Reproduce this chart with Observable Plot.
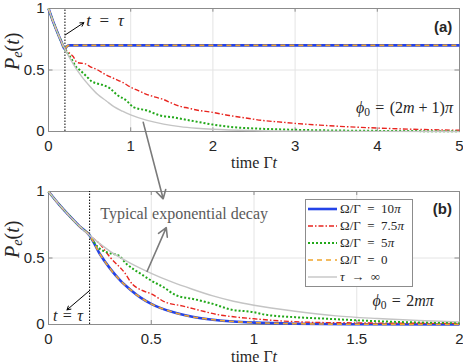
<!DOCTYPE html>
<html><head><meta charset="utf-8">
<script src="https://cdn.jsdelivr.net/npm/d3@7"></script>
<script src="https://cdn.jsdelivr.net/npm/@observablehq/plot@0.6"></script>
<style>
body{margin:0;background:#fff;}
#wrap{position:relative;width:463px;height:364px;overflow:hidden;}
#wrap svg{overflow:visible;display:block;}
#legend{position:absolute;left:305px;top:199px;width:108px;height:88px;border:1px solid #8c8c8c;background:#fff;
  font-family:"Liberation Serif",serif;font-size:13px;color:#262626;box-sizing:border-box;padding-top:0px;}
#legend .row{height:17px;display:flex;align-items:center;white-space:nowrap;}
#legend svg{margin-left:2px;margin-right:3px;flex:none;}
</style></head><body><div id="wrap"></div>
<script>
// ---------- data ----------
const tau = 0.2;
const seriesNames = ["Ω/Γ = 10π", "Ω/Γ = 7.5π", "Ω/Γ = 5π", "Ω/Γ = 0", "τ → ∞"];
const yTicks = [0, 0.5, 1];
const xTicksA = [0, 1, 2, 3, 4, 5];
const xTicksB = [0, 0.5, 1, 1.5, 2];

// common part before t = tau
const preT = [0, 0.05, 0.1, 0.15, 0.2];
const preP = [1, 0.905, 0.82, 0.74, 0.67];

// panel (a): phi0 = (2m+1)pi
const tA_blue = [...preT, 0.22, 0.25, 0.3, 5];
const pA_blue = [...preP, 0.69, 0.70, 0.70, 0.70];
const tA_orange = [...preT, 0.22, 0.25, 0.3, 5];
const pA_orange = [...preP, 0.69, 0.70, 0.70, 0.70];
const tA_red = [...preT, 0.25, 0.3, 0.35, 0.45, 0.5, 0.6, 0.7, 0.8, 0.9, 1.0, 1.1, 1.2, 1.3, 1.4, 1.5, 1.6, 1.7, 1.8, 2.0, 2.2, 2.4, 2.6, 2.8, 3.0, 3.3, 3.6, 4.0, 4.5, 5.0];
const pA_red = [...preP, 0.64, 0.61, 0.56, 0.55, 0.53, 0.50, 0.46, 0.43, 0.40, 0.36, 0.33, 0.30, 0.28, 0.26, 0.23, 0.205, 0.19, 0.175, 0.155, 0.13, 0.11, 0.09, 0.078, 0.066, 0.052, 0.04, 0.028, 0.017, 0.01];
const tA_green = [...preT, 0.25, 0.28, 0.33, 0.38, 0.46, 0.52, 0.59, 0.65, 0.75, 0.83, 0.95, 1.03, 1.2, 1.36, 1.52, 1.68, 1.84, 2.0, 2.25, 2.5, 3.0, 3.5, 4.0, 5.0];
const pA_green = [...preP, 0.62, 0.59, 0.53, 0.50, 0.45, 0.41, 0.39, 0.38, 0.35, 0.30, 0.25, 0.20, 0.17, 0.13, 0.115, 0.095, 0.075, 0.056, 0.035, 0.025, 0.014, 0.008, 0.005, 0.002];
const tA_gray = [...preT, 0.3, 0.4, 0.5, 0.6, 0.7, 0.8, 0.9, 1.0, 1.2, 1.4, 1.6, 1.8, 2.0, 2.5, 3, 4, 5];
const pA_gray = [...preP, 0.55, 0.45, 0.37, 0.30, 0.25, 0.20, 0.165, 0.135, 0.09, 0.06, 0.04, 0.027, 0.018, 0.007, 0.003, 0.001, 0];

// panel (b): phi0 = 2m pi
const tB_blue = [...preT, 0.25, 0.3, 0.35, 0.4, 0.45, 0.5, 0.6, 0.7, 0.8, 0.9, 1.0, 1.2, 1.5, 2.0];
const pB_blue = [...preP, 0.53, 0.42, 0.33, 0.26, 0.20, 0.155, 0.095, 0.058, 0.036, 0.022, 0.014, 0.006, 0.002, 0];
const tB_orange = [...preT, 0.25, 0.3, 0.35, 0.4, 0.45, 0.5, 0.6, 0.7, 0.8, 0.9, 1.0, 1.2, 1.5, 2.0];
const pB_orange = [...preP, 0.53, 0.42, 0.33, 0.26, 0.20, 0.155, 0.095, 0.058, 0.036, 0.022, 0.014, 0.006, 0.002, 0];
const tB_red = [...preT, 0.25, 0.3, 0.37, 0.41, 0.45, 0.5, 0.57, 0.65, 0.74, 0.82, 0.9, 1.0, 1.13, 1.29, 1.5, 2.0];
const pB_red = [...preP, 0.605, 0.505, 0.39, 0.30, 0.26, 0.23, 0.167, 0.14, 0.105, 0.075, 0.058, 0.043, 0.027, 0.016, 0.012, 0.008];
const tB_green = [...preT, 0.235, 0.29, 0.34, 0.38, 0.45, 0.5, 0.56, 0.62, 0.71, 0.8, 0.88, 1.0, 1.05, 1.2, 1.36, 1.52, 1.75, 2.0];
const pB_green = [...preP, 0.59, 0.54, 0.52, 0.455, 0.38, 0.33, 0.28, 0.22, 0.19, 0.155, 0.115, 0.092, 0.075, 0.055, 0.043, 0.03, 0.017, 0.012];
const tB_gray = [...preT, 0.3, 0.4, 0.5, 0.6, 0.7, 0.8, 0.9, 1.0, 1.2, 1.4, 1.6, 1.8, 2.0];
const pB_gray = [...preP, 0.55, 0.46, 0.385, 0.32, 0.265, 0.215, 0.175, 0.145, 0.10, 0.065, 0.045, 0.03, 0.02];

// ---------- styles ----------
const styles = [
  {stroke: "#2443e8", strokeWidth: 2.6, dash: null},
  {stroke: "#e8251f", strokeWidth: 1.4, dash: "5,2,1.5,2"},
  {stroke: "#22a81a", strokeWidth: 2, dash: "2,2"},
  {stroke: "#efa52c", strokeWidth: 1.6, dash: "5,4"},
  {stroke: "#c4c4c4", strokeWidth: 1.4, dash: null}
];
const rows = (t, p) => t.map((d, i) => ({t: d, p: p[i]}));
const SERIF = "Liberation Serif, Times New Roman, serif";
const SANS = "Liberation Sans, Arial, sans-serif";
const EN = "\u2002", TH = "\u2004", MS = "\u2005";
const it = s => `<tspan font-style="italic">${s}</tspan>`;

const RICH = {
  "t = τ": `${it("t")}${EN}=${EN}${it("τ")}`,
  "t = τ ": `${it("t")}${TH}=${TH}${it("τ")}`,
  "Pe(t)": `${it("P")}<tspan font-style="italic" font-size="72%" dy="3">e</tspan><tspan dy="-3">(</tspan>${it("t")})`,
  "time Γt": `time Γ${it("t")}`,
  "ϕ0 = (2m + 1)π": `${it("ϕ")}<tspan font-size="72%" dy="3">0</tspan><tspan dy="-3">${TH}=${TH}(2</tspan>${it("m")}${MS}+${MS}1)${it("π")}`,
  "ϕ0 = 2mπ": `${it("ϕ")}<tspan font-size="72%" dy="3">0</tspan><tspan dy="-3">${TH}=${TH}2</tspan>${it("mπ")}`
};
function richify(svg) {
  d3.select(svg).selectAll("text").each(function() {
    const r = RICH[this.textContent];
    if (r) this.innerHTML = r;
  });
}

function lineMarks(sets) {
  return sets.map(([t, p], i) => Plot.line(rows(t, p), {
    x: "t", y: "p", stroke: styles[i].stroke, strokeWidth: styles[i].strokeWidth,
    strokeDasharray: styles[i].dash, strokeLinecap: "butt", curve: "monotone-x"
  }));
}

function common(xTicks, xmax, labelDy) {
  const tx = 0.011 * xmax; // inner tick length in x units
  return [
    Plot.gridX(xTicks, {stroke: "#e4e4e4", strokeOpacity: 1}),
    Plot.gridY(yTicks, {stroke: "#e4e4e4", strokeOpacity: 1}),
    Plot.ruleX(xTicks, {y1: 0, y2: 0.03, stroke: "#8c8c8c"}),
    Plot.ruleX(xTicks, {y1: 0.97, y2: 1, stroke: "#8c8c8c"}),
    Plot.ruleY(yTicks, {x1: 0, x2: tx, stroke: "#8c8c8c"}),
    Plot.ruleY(yTicks, {x1: xmax - tx, x2: xmax, stroke: "#8c8c8c"}),
    Plot.frame({stroke: "#8c8c8c"}),
    Plot.axisX(xTicks, {tickSize: 0, tickPadding: 9, label: null, tickFormat: d => String(d), fontSize: 15, fill: "#262626"}),
    Plot.axisY(yTicks, {tickSize: 0, tickPadding: 4, label: null, tickFormat: d => String(d), fontSize: 15, fill: "#262626"}),
    Plot.ruleX([tau], {y1: 0, y2: 1, stroke: "#000", strokeWidth: 1, strokeDasharray: "1.5,1.5"}),
    Plot.text(["time Γt"], {frameAnchor: "bottom", lineAnchor: "middle", dy: labelDy, fontFamily: SERIF, fontSize: 16, fill: "#262626"}),
    Plot.text(["Pe(t)"], {frameAnchor: "left", lineAnchor: "middle", dx: -36, rotate: -90, fontFamily: SERIF, fontSize: 20, fill: "#262626", style: "letter-spacing:1px"})
  ];
}

const order = (b, r, g, o, gr) => [b, r, g, o, gr];

const plotA = Plot.plot({
  width: 463, height: 172,
  marginLeft: 48, marginRight: 4, marginTop: 8, marginBottom: 41,
  x: {domain: [0, 5]}, y: {domain: [0, 1]},
  style: {fontFamily: SANS, fontSize: "15px", color: "#262626", background: "transparent", overflow: "visible"},
  marks: [
    ...common(xTicksA, 5, 31),
    ...lineMarks(order([tA_blue, pA_blue], [tA_red, pA_red], [tA_green, pA_green], [tA_orange, pA_orange], [tA_gray, pA_gray])),
    Plot.arrow([{x1: 0.203, y1: 0.785, x2: 0.43, y2: 0.885}], {x1: "x1", y1: "y1", x2: "x2", y2: "y2", stroke: "#000", strokeWidth: 1, headLength: 6}),
    Plot.text(["t = τ"], {x: 0.46, y: 0.9, textAnchor: "start", fontFamily: SERIF, fontSize: 17, fill: "#262626"}),
    Plot.text(["(a)"], {x: 4.8, y: 0.85, fontFamily: SANS, fontWeight: "bold", fontSize: 15, fill: "#262626"}),
    Plot.text(["ϕ0 = (2m + 1)π"], {x: 4.92, y: 0.195, textAnchor: "end", fontFamily: SERIF, fontSize: 16, fill: "#262626"})
  ]
});

const plotB = Plot.plot({
  width: 463, height: 192,
  marginLeft: 48, marginRight: 4, marginTop: 19, marginBottom: 40,
  x: {domain: [0, 2]}, y: {domain: [0, 1]},
  style: {fontFamily: SANS, fontSize: "15px", color: "#262626", background: "transparent", overflow: "visible"},
  marks: [
    ...common(xTicksB, 2, 32),
    ...lineMarks(order([tB_blue, pB_blue], [tB_red, pB_red], [tB_green, pB_green], [tB_orange, pB_orange], [tB_gray, pB_gray])),
    Plot.arrow([{x1: 0.2, y1: 0.255, x2: 0.09, y2: 0.11}], {x1: "x1", y1: "y1", x2: "x2", y2: "y2", stroke: "#000", strokeWidth: 1, headLength: 6}),
    Plot.text(["t = τ "], {x: 0.095, y: 0.068, fontFamily: SERIF, fontSize: 16, fill: "#262626"}),
    Plot.text(["(b)"], {x: 1.917, y: 0.87, fontFamily: SANS, fontWeight: "bold", fontSize: 15, fill: "#262626"}),
    Plot.text(["ϕ0 = 2mπ"], {x: 1.875, y: 0.18, textAnchor: "end", fontFamily: SERIF, fontSize: 16, fill: "#262626"}),
    Plot.text(["Typical exponential decay"], {x: 0.252, y: 0.833, textAnchor: "start", fontFamily: SERIF, fontSize: 16, fill: "#5a5a5a"}),
    Plot.arrow([{x1: 0.461, y1: 1.52, x2: 0.558, y2: 0.945}, {x1: 0.48, y1: 0.40, x2: 0.573, y2: 0.728}],
      {x1: "x1", y1: "y1", x2: "x2", y2: "y2", stroke: "#7a7a7a", strokeWidth: 1.6, headLength: 9})
  ]
});

richify(plotA); richify(plotB);
const wrap = document.getElementById("wrap");
wrap.appendChild(plotA);
wrap.appendChild(plotB);

// legend
const legend = document.createElement("div");
legend.id = "legend";
seriesNames.forEach((name, i) => {
  const row = document.createElement("div");
  row.className = "row";
  const s = styles[i];
  row.innerHTML = `<svg width="29" height="8"><line x1="0" x2="29" y1="4" y2="4" stroke="${s.stroke}" stroke-width="${s.strokeWidth}" ${s.dash ? `stroke-dasharray="${s.dash}"` : ""}/></svg>` +
    `<span>${name.replace(/ = /g, EN + "=" + EN).replace(/ → /g, EN + "→" + EN).replace(/π/g, "<i>π</i>").replace(/τ/g, "<i>τ</i>")}</span>`;
  legend.appendChild(row);
});
wrap.appendChild(legend);
</script>
</body></html>
